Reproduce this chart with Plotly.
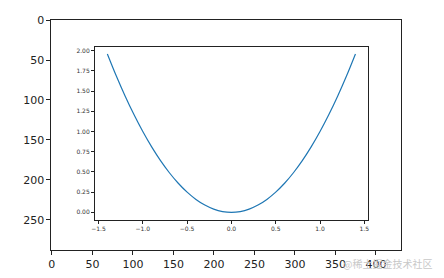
import plotly.graph_objects as go

# inner curve data
xs = [-1.4, -1.3, -1.2, -1.1, -1.0, -0.9, -0.8, -0.7, -0.6, -0.5, -0.4, -0.3, -0.2, -0.1, 0.0,
      0.1, 0.2, 0.3, 0.4, 0.5, 0.6, 0.7, 0.8, 0.9, 1.0, 1.1, 1.2, 1.3, 1.4]
ys = [1.96, 1.69, 1.44, 1.21, 1.00, 0.81, 0.64, 0.49, 0.36, 0.25, 0.16, 0.09, 0.04, 0.01, 0.0,
      0.01, 0.04, 0.09, 0.16, 0.25, 0.36, 0.49, 0.64, 0.81, 1.00, 1.21, 1.44, 1.69, 1.96]

outer_xticks = [0, 50, 100, 150, 200, 250, 300, 350, 400]
outer_yticks = [0, 50, 100, 150, 200, 250]
inner_xticks = [-1.5, -1.0, -0.5, 0.0, 0.5, 1.0, 1.5]
inner_yticks = [0.0, 0.25, 0.5, 0.75, 1.0, 1.25, 1.5, 1.75, 2.0]

W, H = 444, 278
fig = go.Figure()

# outer (empty image-like) axes
fig.add_trace(go.Scatter(x=[0], y=[0], mode="markers", marker=dict(opacity=0),
                         hoverinfo="skip", showlegend=False, xaxis="x", yaxis="y"))
# inner curve
fig.add_trace(go.Scatter(x=xs, y=ys, mode="lines", line=dict(color="#1f77b4", width=1.2, shape="spline"),
                         showlegend=False, xaxis="x2", yaxis="y2"))

font_main = dict(family="DejaVu Sans", size=11, color="#222222")
font_small = dict(family="DejaVu Sans", size=6, color="#333333")

common = dict(showgrid=False, zeroline=False, showline=True, linecolor="#222222", linewidth=1,
              mirror=True, ticks="outside", tickcolor="#222222", ticklen=4, tickwidth=1)

fig.update_layout(
    width=W, height=H,
    margin=dict(l=0, r=0, t=0, b=0),
    paper_bgcolor="white", plot_bgcolor="white",
    xaxis=dict(domain=[48 / W, 402 / W], range=[-0.5, 431.5], tickvals=outer_xticks,
               tickfont=font_main, **common),
    yaxis=dict(domain=[(H - 249) / H, (H - 14) / H], range=[287.5, -0.5], tickvals=outer_yticks,
               tickfont=font_main, **common),
    xaxis2=dict(domain=[92 / W, 368 / W], range=[-1.54, 1.54], tickvals=inner_xticks,
                tickformat=".1f", tickfont=font_small, anchor="y2", **{**common, "ticklen": 3}),
    yaxis2=dict(domain=[(H - 219) / H, (H - 42) / H], range=[-0.098, 2.045], tickvals=inner_yticks,
                tickformat=".2f", tickfont=font_small, anchor="x2", **{**common, "ticklen": 3}),
    annotations=[dict(text="@稀土掘金技术社区", x=435 / W, y=(H - 263) / H, xref="paper", yref="paper",
                      xanchor="right", yanchor="middle", showarrow=False,
                      font=dict(family="Noto Sans CJK SC", size=10, color="#c8c8c8"))],
)

fig.write_html("out.html")
